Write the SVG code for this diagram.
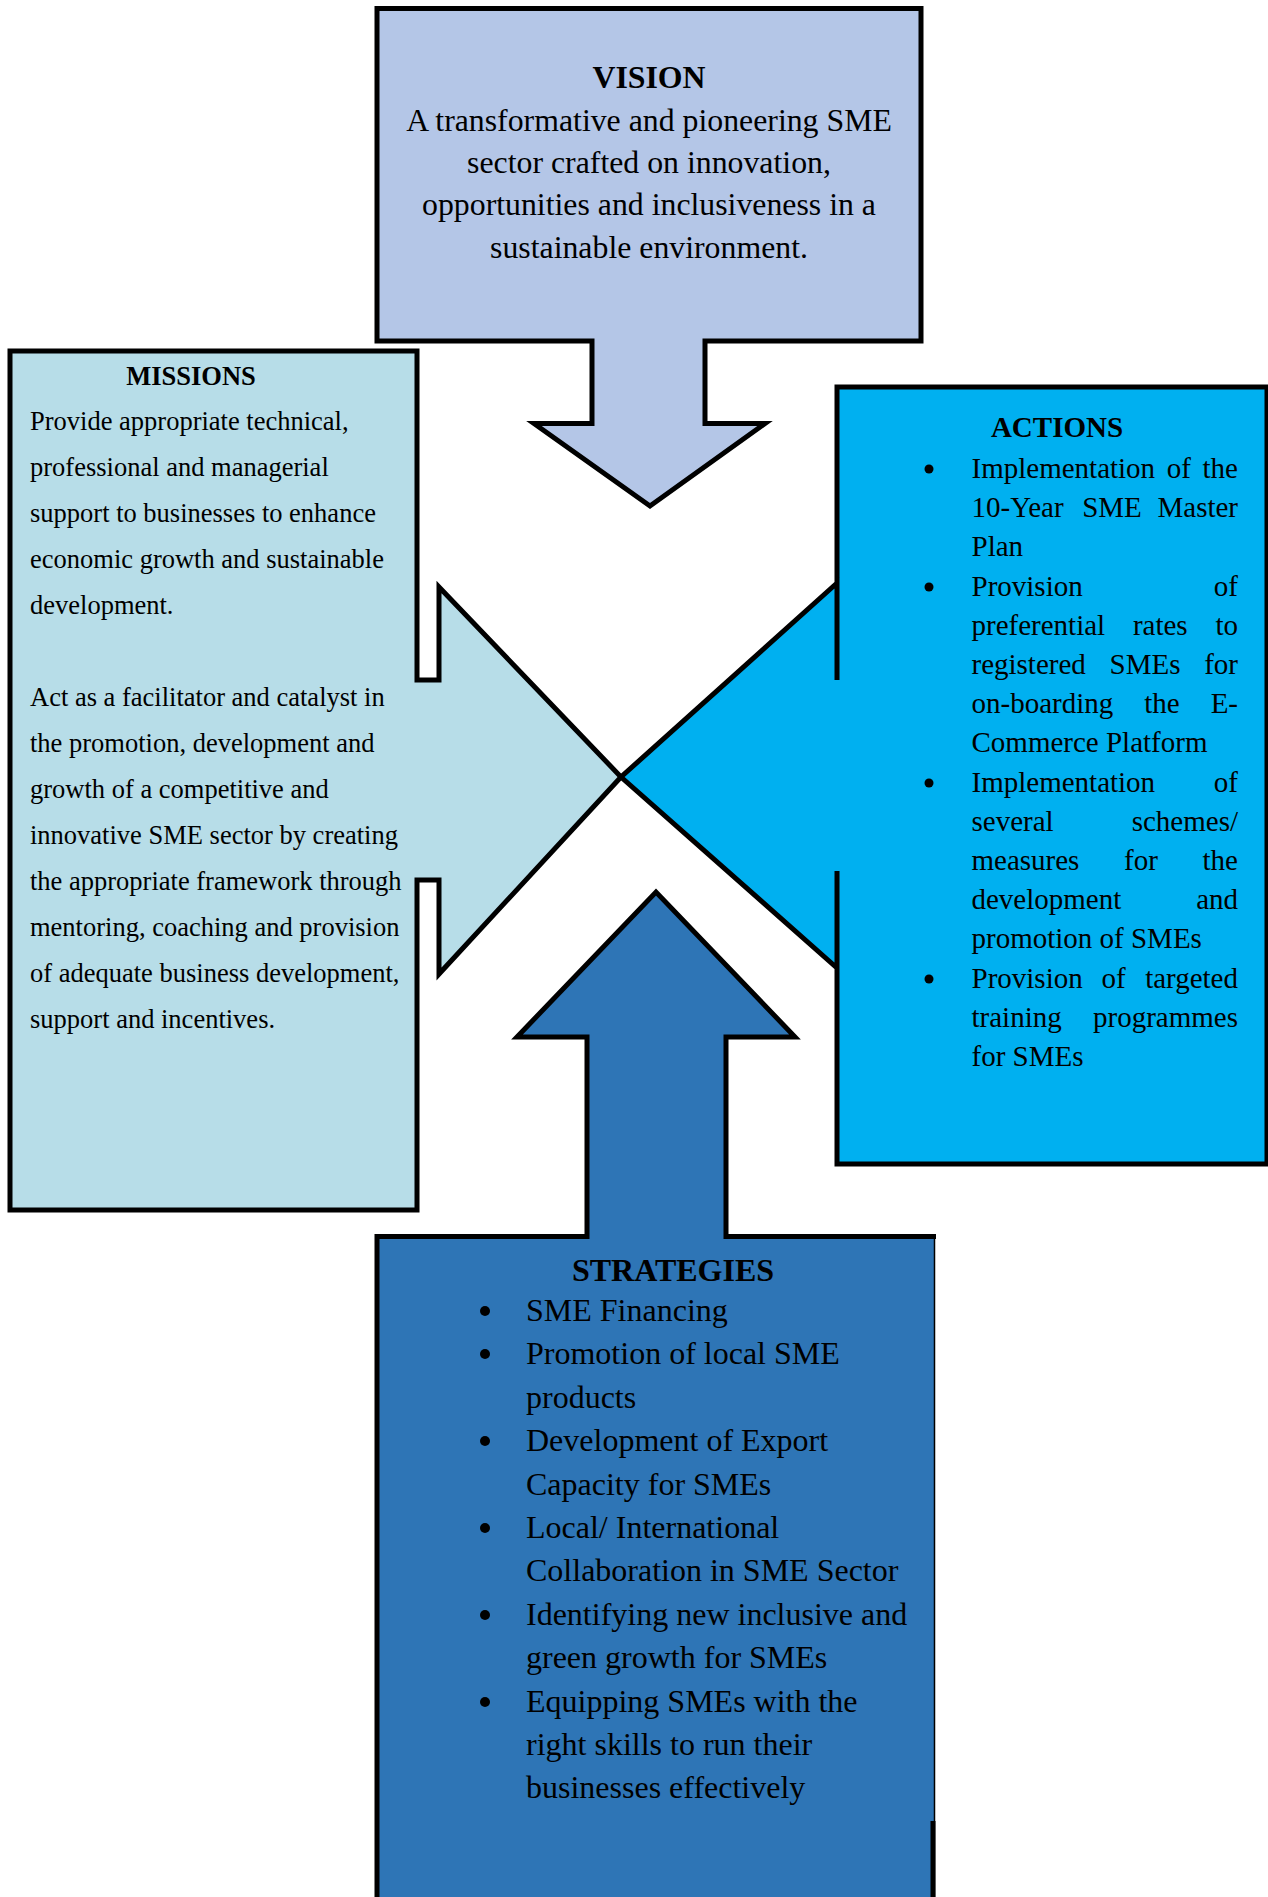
<svg xmlns="http://www.w3.org/2000/svg" width="1268" height="1897" viewBox="0 0 1268 1897">
<style>
.sh{stroke:#000;stroke-width:5;stroke-linejoin:miter}
.t{font-family:"Liberation Serif","Times New Roman",serif;fill:#000}
.b{font-weight:bold}
.v{font-size:31.8px}
.m{font-size:26.5px}
.a{font-size:29px}
.s{font-size:32px}
.c{text-anchor:middle}
.e{text-anchor:end}
</style>
<rect width="1268" height="1897" fill="#fff"/>
<g id="connectors"></g>
<g id="vision">
<polygon class="sh" fill="#B4C6E7" points="377,8.5 921,8.5 921,341 705,341 705,423.5 765,423.5 650,506 534,423.5 592,423.5 592,341 377,341"/>
<text class="t v b c" x="649" y="88">VISION</text>
<text class="t v c" x="649" y="131">A transformative and pioneering SME</text>
<text class="t v c" x="649" y="173">sector crafted on innovation,</text>
<text class="t v c" x="649" y="215">opportunities and inclusiveness in a</text>
<text class="t v c" x="649" y="258">sustainable environment.</text>
</g>
<g id="missions">
<polygon class="sh" fill="#B7DDE8" points="10,351 417,351 417,680 439,680 439,587 621,777 439,974 439,880 417,880 417,1210 10,1210"/>
<text class="t m b c" x="191" y="385">MISSIONS</text>
<text class="t m" x="30" y="430">Provide appropriate technical,</text>
<text class="t m" x="30" y="476">professional and managerial</text>
<text class="t m" x="30" y="522">support to businesses to enhance</text>
<text class="t m" x="30" y="568">economic growth and sustainable</text>
<text class="t m" x="30" y="614">development.</text>
<text class="t m" x="30" y="706">Act as a facilitator and catalyst in</text>
<text class="t m" x="30" y="752">the promotion, development and</text>
<text class="t m" x="30" y="798">growth of a competitive and</text>
<text class="t m" x="30" y="844">innovative SME sector by creating</text>
<text class="t m" x="30" y="890">the appropriate framework through</text>
<text class="t m" x="30" y="936">mentoring, coaching and provision</text>
<text class="t m" x="30" y="982">of adequate business development,</text>
<text class="t m" x="30" y="1028">support and incentives.</text>
</g>
<g id="actions">
<path class="sh" fill="#00B0F0" d="M837,387 L1267,387 L1267,1164 L837,1164 L837,871 L837,968 L621,777 L837,583 L837,680 Z"/>
<text class="t a b c" x="1057" y="437">ACTIONS</text>
<g fill="#000">
<circle cx="929" cy="469" r="4.5"/>
<circle cx="929" cy="587" r="4.5"/>
<circle cx="929" cy="783" r="4.5"/>
<circle cx="929" cy="979" r="4.5"/>
</g>
<text class="t a" x="971.5" y="478">Implementation</text>
<text class="t a" x="1166.8" y="478">of</text>
<text class="t a e" x="1238" y="478">the</text>
<text class="t a" x="971.5" y="517">10-Year</text>
<text class="t a" x="1082.2" y="517">SME</text>
<text class="t a e" x="1238" y="517">Master</text>
<text class="t a" x="971.5" y="556">Plan</text>
<text class="t a" x="971.5" y="596">Provision</text>
<text class="t a e" x="1238" y="596">of</text>
<text class="t a" x="971.5" y="635">preferential</text>
<text class="t a" x="1132.9" y="635">rates</text>
<text class="t a e" x="1238" y="635">to</text>
<text class="t a" x="971.5" y="674">registered</text>
<text class="t a" x="1109.6" y="674">SMEs</text>
<text class="t a e" x="1238" y="674">for</text>
<text class="t a" x="971.5" y="713">on-boarding</text>
<text class="t a" x="1144.2" y="713">the</text>
<text class="t a e" x="1238" y="713">E-</text>
<text class="t a" x="971.5" y="752">Commerce Platform</text>
<text class="t a" x="971.5" y="792">Implementation</text>
<text class="t a e" x="1238" y="792">of</text>
<text class="t a" x="971.5" y="831">several</text>
<text class="t a e" x="1238" y="831">schemes/</text>
<text class="t a" x="971.5" y="870">measures</text>
<text class="t a" x="1124.1" y="870">for</text>
<text class="t a e" x="1238" y="870">the</text>
<text class="t a" x="971.5" y="909">development</text>
<text class="t a e" x="1238" y="909">and</text>
<text class="t a" x="971.5" y="948">promotion of SMEs</text>
<text class="t a" x="971.5" y="988">Provision</text>
<text class="t a" x="1101.5" y="988">of</text>
<text class="t a e" x="1238" y="988">targeted</text>
<text class="t a" x="971.5" y="1027">training</text>
<text class="t a e" x="1238" y="1027">programmes</text>
<text class="t a" x="971.5" y="1066">for SMEs</text>
</g>
<g id="strategies">
<polygon fill="#2E75B6" points="377,1910 377,1236.5 587,1236.5 587,1037 517,1037 656,892 795,1037 726,1037 726,1236.5 935,1236.5 935,1910"/>
<polyline class="sh" fill="none" points="377,1910 377,1236.5 587,1236.5 587,1037 517,1037 656,892 795,1037 726,1037 726,1236.5 936,1236.5"/>
<line x1="934.5" y1="1236.5" x2="934.5" y2="1897" stroke="#000" stroke-width="1.5"/>
<line x1="933" y1="1821" x2="933" y2="1897" stroke="#000" stroke-width="5"/>
<text class="t s b c" x="673" y="1281">STRATEGIES</text>
<g fill="#000">
<circle cx="485" cy="1311" r="5"/>
<circle cx="485" cy="1354" r="5"/>
<circle cx="485" cy="1441" r="5"/>
<circle cx="485" cy="1528" r="5"/>
<circle cx="485" cy="1615" r="5"/>
<circle cx="485" cy="1702" r="5"/>
</g>
<text class="t s" x="526" y="1321">SME Financing</text>
<text class="t s" x="526" y="1364">Promotion of local SME</text>
<text class="t s" x="526" y="1408">products</text>
<text class="t s" x="526" y="1451">Development of Export</text>
<text class="t s" x="526" y="1495">Capacity for SMEs</text>
<text class="t s" x="526" y="1538">Local/ International</text>
<text class="t s" x="526" y="1581">Collaboration in SME Sector</text>
<text class="t s" x="526" y="1625">Identifying new inclusive and</text>
<text class="t s" x="526" y="1668">green growth for SMEs</text>
<text class="t s" x="526" y="1712">Equipping SMEs with the</text>
<text class="t s" x="526" y="1755">right skills to run their</text>
<text class="t s" x="526" y="1798">businesses effectively</text>
</g>
</svg>
